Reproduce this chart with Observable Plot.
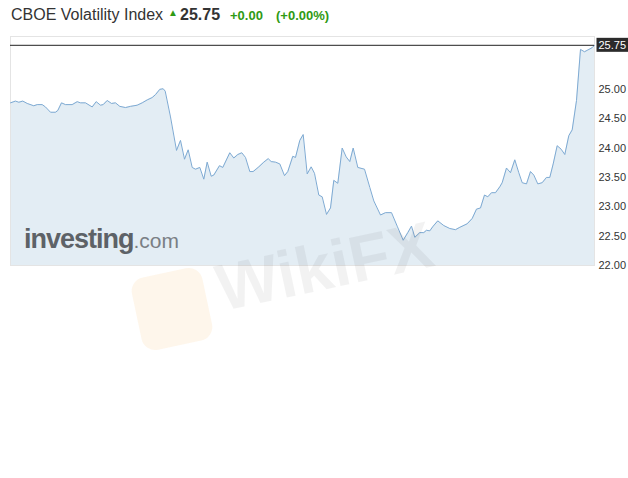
<!DOCTYPE html>
<html>
<head>
<meta charset="utf-8">
<script src="https://cdn.jsdelivr.net/npm/d3@7"></script>
<script src="https://cdn.jsdelivr.net/npm/@observablehq/plot@0.6"></script>
<style>
  html, body { margin: 0; padding: 0; background: #fff; }
  body { width: 628px; height: 478px; position: relative; overflow: hidden; font-family: "Liberation Sans", Arial, sans-serif; }
  #head { height: 36px; position: relative; color: #333; }
  #head span { position: absolute; white-space: nowrap; }
  #chart { position: absolute; left: 0; top: 36px; }
  .wm { position: absolute; white-space: nowrap; pointer-events: none; }
</style>
</head>
<body>
<div id="head">
  <span id="name" style="left:11px; top:6px; font-size:16px;"></span>
  <span style="left:168px; top:7px; font-size:10px; color:#2f9a14;">&#9650;</span>
  <span id="price" style="left:180px; top:6px; font-size:16px; font-weight:bold; color:#333;"></span>
  <span id="chg" style="left:230px; top:8px; font-size:13px; font-weight:bold; color:#2f9a14;"></span>
  <span id="pct" style="left:276px; top:8px; font-size:13px; font-weight:bold; color:#2f9a14;"></span>
</div>
<div id="chart"></div>
<div class="wm" style="left:24px; top:224px; color:#5d6267; font-size:27px; font-weight:bold; letter-spacing:-1px;">investing<span style="font-weight:normal; color:#7a7f84; font-size:21px; letter-spacing:0;">.com</span></div>
<div class="wm" style="left:136px; top:272px; width:72px; height:74px; border-radius:14px; background:rgba(245,170,60,0.10); transform:rotate(-12deg);"></div>
<div class="wm" style="left:225px; top:250px; color:rgba(0,0,0,0.05); font-size:66px; font-weight:bold; transform:rotate(-12deg); transform-origin:left bottom;">WikiFX</div>
<script>
const title = "CBOE Volatility Index";
const change = "+0.00";
const changePct = "(+0.00%)";
// sample positions along the time axis (relative units) and index values
const t = [10,15,18.3,22.3,26.7,33.3,36.7,41.7,45,50,55,57.3,61,65,71.7,76.7,80,85,91.7,95.7,100,102.7,106.7,111,115,119.3,125,130,136.7,141.7,146.7,151.7,155,159.3,162.7,164.7,170,176,180,184,187.7,191.7,195,199.3,203.3,206.7,210.7,213.3,219,222.3,229.3,233.3,237.3,241.3,245,249.3,252.7,258.3,263.3,267.7,270.7,275,279.3,284,287.3,292.3,295,299.3,302.7,306.7,310.7,314,318.3,321.7,326,330,333.3,337.3,341.7,345.7,349.3,352.7,357.3,364,369.3,373.3,380,385,391,396.7,402.7,407.3,411,414.3,419.3,423.3,426,429.3,432.7,437.3,443.3,449.3,455,459.3,466.7,471.7,476,480,484,487.3,491,495,499.3,501.7,506,510,514.3,518.3,521.7,526,530,533.3,537.3,541.7,546,549.3,552.7,556.7,560.7,564.3,568.3,571.7,576,580,584,587.3,591.7,594];
const vix = [24.77,24.80,24.78,24.80,24.76,24.72,24.74,24.74,24.70,24.61,24.61,24.64,24.77,24.74,24.74,24.79,24.77,24.77,24.70,24.79,24.73,24.74,24.81,24.76,24.77,24.71,24.69,24.71,24.73,24.77,24.82,24.86,24.91,25.00,25.01,24.97,24.53,23.96,24.13,23.81,23.97,23.67,23.64,23.67,23.47,23.76,23.52,23.54,23.70,23.67,23.92,23.83,23.89,23.92,23.84,23.60,23.60,23.68,23.76,23.82,23.77,23.76,23.73,23.53,23.60,23.86,23.84,24.13,24.23,23.56,23.68,23.57,23.20,23.17,22.87,22.98,23.45,23.40,24.00,23.85,23.77,24.00,23.67,23.64,23.33,23.10,22.86,22.90,22.90,22.67,22.43,22.56,22.67,22.48,22.56,22.56,22.60,22.59,22.67,22.76,22.68,22.63,22.61,22.65,22.71,22.80,22.96,22.98,23.20,23.17,23.24,23.24,23.34,23.41,23.66,23.58,23.80,23.58,23.41,23.39,23.60,23.54,23.39,23.41,23.50,23.50,23.73,24.04,23.98,23.89,24.21,24.31,24.81,25.68,25.64,25.67,25.71,25.75];
const yTicks = [22, 22.5, 23, 23.5, 24, 24.5, 25];
const yDomain = [22, 25.9];

const data = t.map((d, i) => ({t: d, v: vix[i]}));
const last = data[data.length - 1];

document.getElementById("name").textContent = title;
document.getElementById("price").textContent = last.v.toFixed(2);
document.getElementById("chg").textContent = change;
document.getElementById("pct").textContent = changePct;

const chart = Plot.plot({
  width: 628,
  height: 240,
  marginTop: 0,
  marginBottom: 11,
  marginLeft: 10,
  marginRight: 34,
  style: {fontFamily: "Liberation Sans, Arial, sans-serif", background: "transparent"},
  x: {domain: [t[0], t[t.length - 1]], axis: null},
  y: {domain: yDomain, axis: null},
  marks: [
    Plot.areaY(data, {x: "t", y1: yDomain[0], y2: "v", fill: "#e3edf4"}),
    Plot.frame({stroke: "#e4e4e4"}),
    Plot.lineY(data, {x: "t", y: "v", stroke: "#7eaad3", strokeWidth: 1}),
    Plot.ruleY([last.v], {stroke: "#222", strokeWidth: 1}),
    Plot.axisY(yTicks, {anchor: "right", label: null, tickSize: 0, tickPadding: 4, tickFormat: d => d.toFixed(2), fontSize: 11, fill: "#333"}),
    Plot.text([last], {x: "t", y: "v", text: d => d.v.toFixed(2), textAnchor: "start", dx: 4, fill: "#fff", fontSize: 11, className: "lastlabel"})
  ]
});
document.getElementById("chart").appendChild(chart);

// dark background box behind the last-value label
const lbl = chart.querySelector("g.lastlabel text");
if (lbl) {
  const bb = lbl.getBBox();
  const rect = document.createElementNS("http://www.w3.org/2000/svg", "rect");
  rect.setAttribute("x", bb.x - 2);
  rect.setAttribute("y", bb.y - 1);
  rect.setAttribute("width", bb.width + 4);
  rect.setAttribute("height", bb.height + 2);
  rect.setAttribute("fill", "#2b2b2b");
  const tr = lbl.getAttribute("transform");
  if (tr) rect.setAttribute("transform", tr);
  lbl.parentNode.insertBefore(rect, lbl);
}
</script>
</body>
</html>
